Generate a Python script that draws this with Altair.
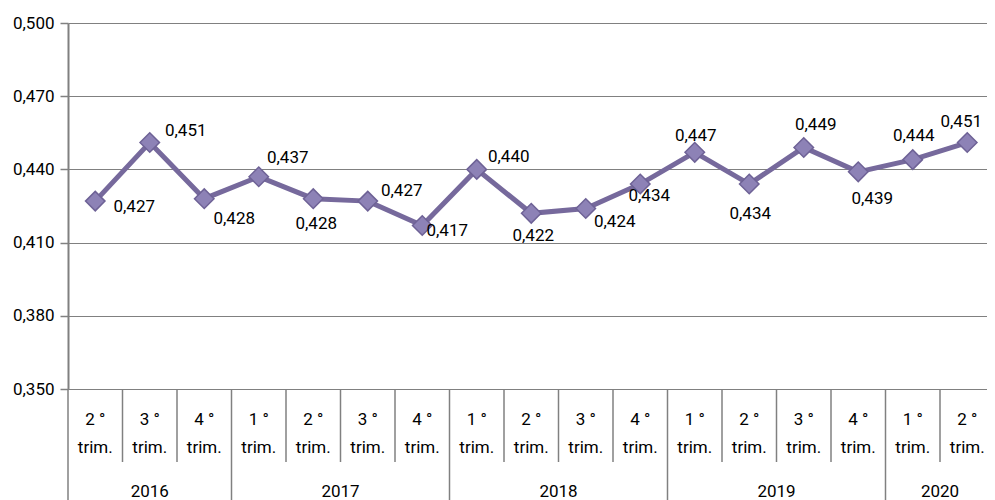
import altair as alt
import pandas as pd

# ---- data ----
years = ["2016"] * 3 + ["2017"] * 4 + ["2018"] * 4 + ["2019"] * 4 + ["2020"] * 2
quarters = ["2 °", "3 °", "4 °", "1 °", "2 °", "3 °", "4 °", "1 °", "2 °", "3 °", "4 °",
            "1 °", "2 °", "3 °", "4 °", "1 °", "2 °"]
values = [0.427, 0.451, 0.428, 0.437, 0.428, 0.427, 0.417, 0.440, 0.422, 0.424, 0.434,
          0.447, 0.434, 0.449, 0.439, 0.444, 0.451]
y_ticks = [0.350, 0.380, 0.410, 0.440, 0.470, 0.500]

# ---- label styling (pixel offsets of each value label from its point) ----
label_dx = [39, 36, 30, 29, 3, 34, 25, 32, 2, 29, 9, 1, 1, 12, 14, 1, -6]
label_dy = [6, -12, 20, -19, 25, -10, 5, -12, 23, 14, 12, -16, 30, -22, 27, -24, -21]

FONT = "Roboto, sans-serif"
FS = 17
BAND = 54.5
W, H = 919, 366
GRID = "#808080"
LINE = "#76699c"

n = len(values)
df = pd.DataFrame({"idx": list(range(n)), "year": years, "q": quarters, "v": values})
bounds = pd.DataFrame({
    "b": list(range(n + 1)),
    "long": [b == 0 or b == n or years[b] != years[b - 1] for b in range(n + 1)],
})

xs = alt.Scale(domain=[0, W / BAND], nice=False, zero=False)
ys = alt.Scale(domain=[0.35, 0.5], nice=False, zero=False)
fmt = "replace(format(datum.value, '.3f'), '.', ',')"

base = alt.Chart(df).transform_calculate(pos="datum.idx + 0.5")

line = base.mark_line(color=LINE, strokeWidth=5).encode(
    x=alt.X("pos:Q", scale=xs, axis=None),
    y=alt.Y("v:Q", scale=ys, axis=alt.Axis(
        values=y_ticks, labelExpr=fmt, title=None, grid=True, gridColor=GRID,
        gridWidth=1, domainColor=GRID, domainWidth=2, tickColor=GRID, tickSize=8,
        tickWidth=1.5, labelFontSize=FS, labelPadding=6, labelColor="#000000",
        labelFont=FONT)),
)
points = base.mark_point(shape="diamond", filled=True, size=380, fill="#8d82b6",
                         stroke="#6e6296", strokeWidth=1.5, opacity=1).encode(
    x=alt.X("pos:Q", scale=xs, axis=None),
    y=alt.Y("v:Q", scale=ys),
)

labels = []
for i in range(n):
    labels.append(
        base.transform_filter(alt.datum.idx == i)
        .transform_calculate(lab="replace(format(datum.v, '.3f'), '.', ',')")
        .mark_text(dx=label_dx[i], dy=label_dy[i], fontSize=FS, font=FONT,
                   color="#000000", align="center", baseline="middle")
        .encode(x=alt.X("pos:Q", scale=xs, axis=None), y=alt.Y("v:Q", scale=ys),
                text="lab:N")
    )

rules_short = alt.Chart(bounds).transform_filter("!datum.long").mark_rule(
    color=GRID, strokeWidth=1.5).encode(
    x=alt.X("b:Q", scale=xs, axis=None), y=alt.value(H), y2=alt.value(H + 73))
rules_long = alt.Chart(bounds).transform_filter("datum.long").mark_rule(
    color=GRID, strokeWidth=1.5).encode(
    x=alt.X("b:Q", scale=xs, axis=None), y=alt.value(H), y2=alt.value(H + 115))

q_text = base.mark_text(fontSize=FS, font=FONT, color="#000000", baseline="middle").encode(
    x=alt.X("pos:Q", scale=xs, axis=None), y=alt.value(H + 31), text="q:N")
trim_text = base.mark_text(fontSize=FS, font=FONT, color="#000000", baseline="middle",
                           text="trim.").encode(
    x=alt.X("pos:Q", scale=xs, axis=None), y=alt.value(H + 59))
year_text = base.transform_aggregate(pos="mean(pos)", groupby=["year"]).mark_text(
    fontSize=FS, font=FONT, color="#000000", baseline="middle").encode(
    x=alt.X("pos:Q", scale=xs, axis=None), y=alt.value(H + 103), text="year:N")

chart = alt.layer(line, points, *labels, rules_short, rules_long, q_text, trim_text,
                  year_text).properties(
    width=W, height=H, autosize=alt.AutoSizeParams(type="none"),
    padding={"left": 60, "top": 15, "right": 0, "bottom": 111},
).configure(font=FONT).configure_view(stroke=None)

chart.save("out.html", embed_options={"renderer": "svg", "actions": False})
